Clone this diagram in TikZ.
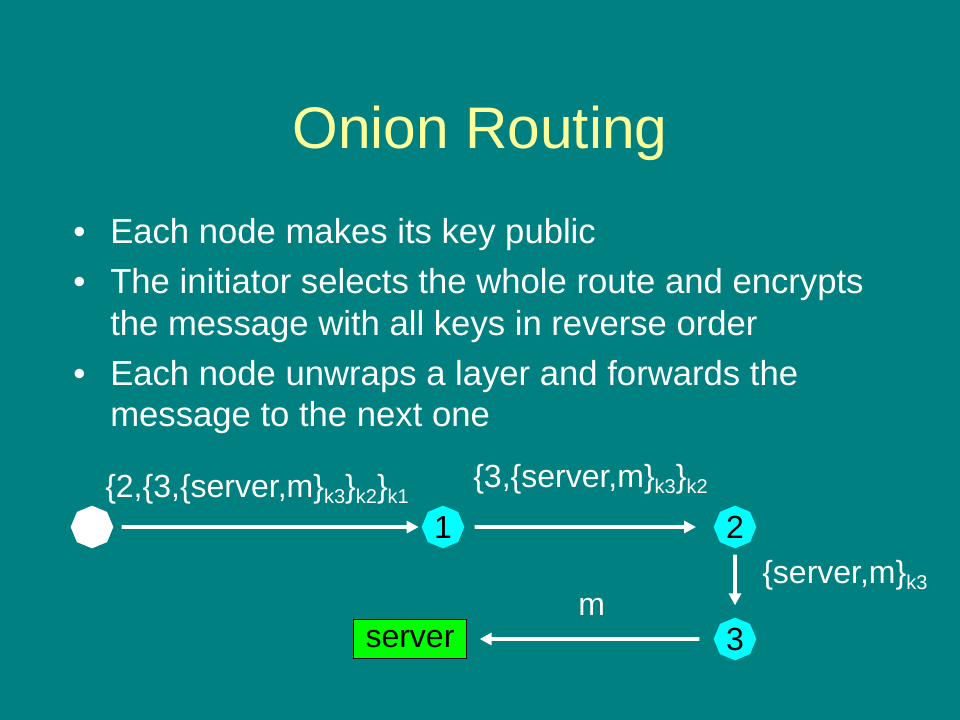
\documentclass[tikz,border=0pt]{standalone}
\usepackage{fontspec}
\setmainfont{Liberation Sans}
\usepackage{xcolor}
\usetikzlibrary{
    arrows.meta,
    shapes.geometric,
    positioning
}
\definecolor{slideteal}{RGB}{0,128,128}
\definecolor{titleyellow}{RGB}{255,255,153}
\definecolor{relaycyan}{RGB}{0,255,255}
\definecolor{servergreen}{RGB}{0,255,0}
\newcommand{\keysub}[1]{\raisebox{-5pt}{\fontsize{15}{15}\selectfont #1}}
\tikzset{
    relay/.style={regular polygon, regular polygon sides=8, shape border rotate=22.5,
        minimum size=32pt, inner sep=0pt, fill=relaycyan, text=black,
        font=\fontsize{24}{28}\selectfont},
    bulletline/.style={anchor=base west, inner sep=0pt, text=white,
        font=\fontsize{26}{31}\selectfont},
    msglabel/.style={anchor=base west, inner sep=0pt, text=white,
        font=\fontsize{24}{28}\selectfont},
    hop/.style={draw=white, line width=2.8pt, -{Triangle[length=9pt, width=9pt]}}
}

\begin{document}
\begin{tikzpicture}[x=0.75pt, y=-0.75pt]
    \useasboundingbox[fill=slideteal] (0, 0) rectangle (960, 720);

    \node[anchor=base, inner sep=0pt, text=titleyellow, font=\fontsize{44}{50}\selectfont] (title) at (480, 149) {Onion Routing};

    \node[bulletline] (b1) at (73, 244) {\textbullet};
    \node[bulletline] (b2) at (73, 294) {\textbullet};
    \node[bulletline] (b3) at (73, 385) {\textbullet};
    \node[bulletline] (l1) at (110, 244) {Each node makes its key public};
    \node[bulletline] (l2) at (110, 294) {The initiator selects the whole route and encrypts};
    \node[bulletline] (l3) at (110, 335) {the message with all keys in reverse order};
    \node[bulletline] (l4) at (110, 385) {Each node unwraps a layer and forwards the};
    \node[bulletline] (l5) at (110, 426) {message to the next one};

    \node[relay, fill=white] (init) at (92, 527) {};
    \node[relay] (n1) at (443, 527) {1};
    \node[relay] (n2) at (735, 527) {2};
    \node[relay] (n3) at (735, 639) {3};
    \node[draw=black, fill=servergreen, text=black, minimum width=85pt, minimum height=29pt,
        inner sep=0pt, font=\fontsize{24}{28}\selectfont] (srv) at (410, 639) {server};

    \draw
    (init) edge[hop, shorten <=6pt, shorten >=2pt] (n1)
    (n1) edge[hop, shorten <=7.5pt, shorten >=13pt] (n2)
    (n2) edge[hop, shorten <=4.5pt, shorten >=9pt] (n3)
    (n3) edge[hop, shorten <=10.5pt, shorten >=9.5pt] (srv);

    \node[msglabel] (m1) at (105, 497) {\{2,\{3,\{server,m\}\keysub{k3}\}\keysub{k2}\}\keysub{k1}};
    \node[msglabel] (m2) at (473, 487) {\{3,\{server,m\}\keysub{k3}\}\keysub{k2}};
    \node[msglabel] (m3) at (762, 583) {\{server,m\}\keysub{k3}};
    \node[msglabel] (m4) at (578, 615) {m};
\end{tikzpicture}
\end{document}
